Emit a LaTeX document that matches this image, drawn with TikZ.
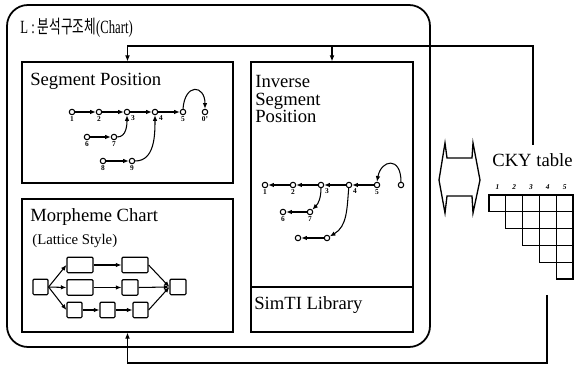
\documentclass[tikz,border=0pt]{standalone}
\usepackage{fontspec}
\setmainfont{Liberation Serif}
\newfontfamily\kofont{Noto Sans CJK KR}
\usepackage{graphicx}
\usetikzlibrary{arrows.meta,positioning,fit,calc}

\begin{document}
\begin{tikzpicture}[
  x=0.02cm, y=0.02cm,
  outerbox/.style={draw, line width=1pt, rounded corners=0.42cm, inner sep=0pt},
  panel/.style={draw, line width=0.65pt, inner sep=0pt},
  libbox/.style={draw, line width=1.5pt, inner sep=0pt},
  head/.style={font=\fontsize{10.6}{10.2}\selectfont, anchor=base west, inner sep=0pt, align=left},
  pt/.style={circle, draw, line width=0.6pt, fill=white, inner sep=0pt, minimum size=3.1pt},
  num/.style={font=\bfseries\fontsize{4.2}{4}\selectfont, inner sep=0.8pt},
  cnum/.style={font=\itshape\bfseries\fontsize{4.2}{4}\selectfont, inner sep=0.5pt},
  arr/.style={-{Latex[length=3.2pt,width=2.6pt]}, line width=0.6pt},
  lat/.style={draw, line width=0.65pt, rounded corners=0.6pt, minimum height=0.31cm, inner sep=0pt},
  link/.style={-{Latex[length=3.5pt,width=2.8pt]}, line width=0.65pt},
  cell/.style={draw, line width=0.75pt, minimum size=0.336cm, inner sep=0pt}
]
  \useasboundingbox (0,0) rectangle (575,368);

  % analysis structure (chart)
  \node[outerbox, fit={(7,21) (430,363)}] (chart) {};
  \node[head, font=\fontsize{10.6}{11}\selectfont] (charttitle) at (20,334)
    {\scalebox{0.68}[1]{L : {\kofont 분석구조체}(Chart)}};

  \node[panel, fit={(22,185) (233,306)}] (segpos) {};
  \node[panel, fit={(22,36) (233,169)}] (morph) {};
  \node[panel, fit={(251,36) (413,306)}] (invseg) {};
  \node[libbox, fit={(251,36) (413,81)}] (simti) {};

  \node[head] (segtitle) at (30,282) {Segment Position};
  \node[head] (invtitle) at (255,245) {Inverse\\Segment\\Position};
  \node[head] (morphtitle) at (30,146) {Morpheme Chart};
  \node[head, font=\fontsize{8.4}{9}\selectfont] (lattitle) at (32,123) {(Lattice Style)};
  \node[head] (libtitle) at (254,58) {SimTI Library};

  % segment position
  \foreach \n/\x/\y/\pos/\t in {1/72/256/below/1, 2/99/256/below/2, 3/127/256/below right/3,
    4/155/256/below right/4, 5/183/256/below/5, 0/205/256/below/0', 6/87/231/below/6,
    7/114/231/below/7, 8/103/207/below/8, 9/132/207/below/9}
    \node[pt, label={[num]\pos:\t}] (s\n) at (\x,\y) {};
  \foreach \a/\b in {s1/s2,s2/s3,s3/s4,s4/s5,s6/s7,s8/s9}
    \draw[arr] (\a) -- (\b);
  \draw[arr] (s7) to[out=0,in=-90] (s3);
  \draw[arr] (s9) to[out=0,in=-90] (s4);
  \draw[arr] (s5.north) .. controls +(2,26) and +(0,24) .. (s0.north);

  % inverse segment position
  \foreach \n/\x/\y/\pos/\t in {1/265/183/below/1, 2/293/183/below/2, 3/321/183/below right/3,
    4/349/183/below right/4, 5/377/183/below/5, 6/283/156/below/6, 7/310/156/below/7}
    \node[pt, label={[num]\pos:\t}] (i\n) at (\x,\y) {};
  \node[pt] (i0) at (401,183) {};
  \node[pt] (i8) at (298,130) {};
  \node[pt] (i9) at (327,130) {};
  \foreach \a/\b in {i2/i1,i3/i2,i4/i3,i5/i4,i7/i6,i9/i8}
    \draw[arr] (\a) -- (\b);
  \draw[arr] (i3) to[out=-90,in=45] (i7);
  \draw[arr] (i4) to[out=-95,in=30] (i9);
  \draw[arr] (i0.north) .. controls +(0,26) and +(4,22) .. (i5.north);

  % morpheme lattice
  \foreach \n/\x/\y/\w in {ls/40.5/81/0.3, a1/80/103/0.52, a2/135/103/0.52, b1/80/80.5/0.52,
    b2/130/80.5/0.32, c1/74.5/58/0.3, c2/107.5/58/0.3, c3/140.5/58/0.3, le/178/81/0.32}
    \node[lat, minimum width=\w cm] (\n) at (\x,\y) {};
  \foreach \b in {a1,b1,c1}
    \draw[arr] (ls.east) -- (\b.west);
  \foreach \a/\b in {a1/a2,b1/b2,c1/c2,c2/c3}
    \draw[arr] (\a) -- (\b);
  \foreach \a in {a2,b2,c3}
    \draw[arr] (\a.east) -- (le.west);

  % exchange with the CKY table
  \draw[line width=0.75pt] (439,188) -- (445,225) -- (447,210) -- (472,210) -- (473,225)
    -- (480,188) -- (473,155) -- (472,172) -- (447,172) -- (445,155) -- cycle;

  \node[head] (ckytitle) at (492,201) {CKY table};
  \foreach \r in {1,...,5}
    \foreach \c in {\r,...,5}
      \node[cell] (k\r\c) at ({497.4+16.8*(\c-1)},{164.6-16.8*(\r-1)}) {};
  \foreach \c in {1,...,5}
    \node[cnum, above=2pt of k1\c] (h\c) {\c};

  % feedback lines
  \coordinate (topend) at (533,223);
  \coordinate (botend) at (547,73);
  \draw[link] (topend) -- ++(0,99) coordinate (tjoin) -| (segpos.north);
  \draw[link] (tjoin -| invseg.north) -- (invseg.north);
  \draw[link] (botend) -- ++(0,-68) -| (morph.south);
\end{tikzpicture}
\end{document}
